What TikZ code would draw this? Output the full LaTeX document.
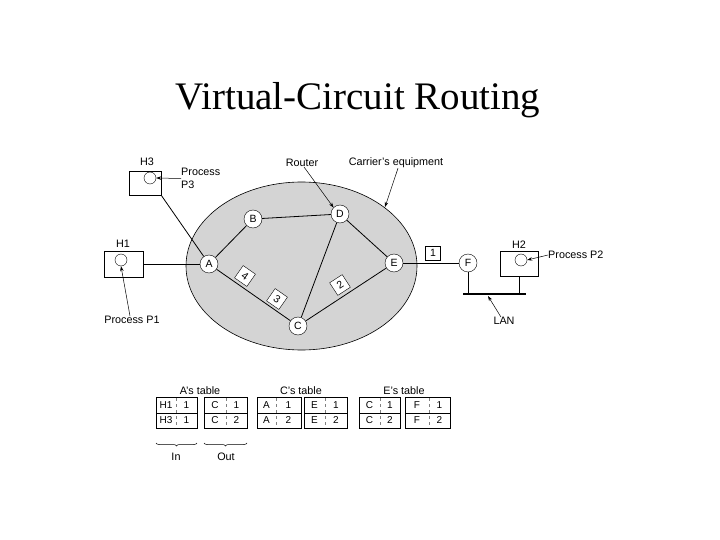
\documentclass[tikz,border=0pt]{standalone}
\usepackage{fontspec}
\setmainfont{Liberation Sans}
\newfontfamily\vctitlefont{Liberation Serif}
\usetikzlibrary{arrows.meta,decorations.pathreplacing}
\definecolor{cloudgray}{RGB}{212,212,212}
\tikzset{
  lbl/.style={font=\fontsize{10.8}{12.5}\selectfont, inner sep=0pt},
  router/.style={circle, draw, fill=white, minimum size=18pt, inner sep=0pt, font=\fontsize{10.5}{12}\selectfont},
  hostbox/.style={draw, fill=white, minimum width=38pt, minimum height=25pt, inner sep=0pt},
  proc/.style={circle, draw, minimum size=12pt, inner sep=0pt},
  numbox/.style={draw, fill=white, minimum size=15pt, inner sep=0pt, font=\fontsize{10.5}{12}\selectfont},
  arr/.style={-{Stealth[length=5pt,width=3.5pt]}, line width=0.5pt},
  link/.style={line width=0.8pt},
  tabline/.style={line width=0.7pt},
  cell/.style={font=\fontsize{10}{12}\selectfont, inner sep=0pt},
  brc/.style={decorate, decoration={brace, mirror, amplitude=3pt}, line width=0.5pt}
}
\newcommand{\vctab}[7]{%
  \draw[tabline] (#1,397) rectangle (#2,428);
  \draw[tabline] (#1,413) -- (#2,413);
  \draw[dashed, line width=0.4pt, gray] (#3,398) -- (#3,427);
  \node[cell] at ({(#1+#3)/2},405) {#4};
  \node[cell] at ({(#3+#2)/2},405) {#5};
  \node[cell] at ({(#1+#3)/2},420.5) {#6};
  \node[cell] at ({(#3+#2)/2},420.5) {#7};
}
\begin{document}
\begin{tikzpicture}[x=1pt,y=-1pt]
\useasboundingbox (0,0) rectangle (720,540);
% title
\node[anchor=base, inner sep=0pt, font=\vctitlefont\fontsize{39}{44}\selectfont] (title) at (358,110) {Virtual-Circuit Routing};
% carrier ellipse
\draw[fill=cloudgray, line width=0.6pt] (301.5,266) ellipse [x radius=115.5, y radius=84];
\coordinate (ellpt) at (385,207);
% routers
\node[router] (A) at (209,264) {A};
\node[router] (B) at (253,219) {B};
\node[router] (D) at (340,214) {D};
\node[router] (E) at (394,263) {E};
\node[router] (C) at (298,326) {C};
\node[router] (F) at (468,263) {F};
% hosts
\node[hostbox, minimum width=39pt, minimum height=26pt] (H1) at (123.5,264) {};
\node[proc] (h1c) at (121,260) {};
\node[lbl] (h1l) at (123,244) {H1};
\node[hostbox, minimum width=32pt, minimum height=24pt] (H3) at (145,183) {};
\node[proc] (h3c) at (150,178) {};
\node[lbl] (h3l) at (147,162) {H3};
\node[hostbox, minimum width=38pt, minimum height=25pt] (H2) at (519,263.5) {};
\node[proc] (h2c) at (521,260) {};
\node[lbl] (h2l) at (519,245) {H2};
% links
\draw[link] (H1.east) -- (A);
\draw[link] (H3.south east) -- (A);
\draw[link] (A) -- (B);
\draw[link] (B) -- (D);
\draw[link] (D) -- (E);
\draw[link] (D) -- (C);
\draw[link] (A) -- (C);
\draw[link] (C) -- (E);
\draw[link] (E) -- (F);
% LAN
\coordinate (lanL) at (463,294);
\coordinate (lanR) at (526,294);
\draw[line width=2.5pt] (lanL) -- (lanR);
\draw[link] (F.south) -- (F.south |- lanL);
\draw[link] (H2.south) -- (H2.south |- lanL);
\coordinate (lanpt) at (488,296);
% numbered boxes
\node[numbox, rotate=-35] (n4) at (245,276) {4};
\node[numbox, rotate=-35] (n3) at (277,299) {3};
\node[numbox, rotate=33] (n2) at (340,285) {2};
\node[numbox, minimum width=15pt, minimum height=14pt] (n1) at (433,253) {1};
% labels with arrows
\node[lbl] (router) at (302,163) {Router};
\draw[arr] ([xshift=2pt]router.south) -- (D.north west);
\node[lbl] (carrier) at (396,163) {Carrier's equipment};
\draw[arr] ([xshift=2pt]carrier.south) -- (ellpt);
\node[lbl, align=left, anchor=west] (p3l) at (181,178.5) {Process\\P3};
\draw[arr] (p3l.west) -- (h3c.east);
\node[lbl] (p1l) at (132,320) {Process P1};
\draw[arr] ([xshift=-2pt]p1l.north) -- (h1c.south);
\node[lbl, anchor=west] (p2l) at (548,255) {Process P2};
\draw[arr] (p2l.west) -- (h2c.east);
\node[lbl] (lan) at (504,321) {LAN};
\draw[arr] ([xshift=-3pt]lan.north) -- (lanpt);
% tables
\node[lbl] (atl) at (200,391) {A's table};
\node[lbl] (ctl) at (301,391) {C's table};
\node[lbl] (etl) at (404,391) {E's table};
\vctab{156}{197}{176}{H1}{1}{H3}{1}
\vctab{204}{247}{226}{C}{1}{C}{2}
\vctab{257}{301}{276}{A}{1}{A}{2}
\vctab{304}{347}{325}{E}{1}{E}{2}
\vctab{359}{400}{380}{C}{1}{C}{2}
\vctab{405}{450}{429}{F}{1}{F}{2}
% braces
\draw[brc] (156,443) -- (197,443);
\draw[brc] (204,443) -- (247,443);
\node[lbl] (inl) at (176,457) {In};
\node[lbl] (outl) at (226,457) {Out};
\end{tikzpicture}
\end{document}
